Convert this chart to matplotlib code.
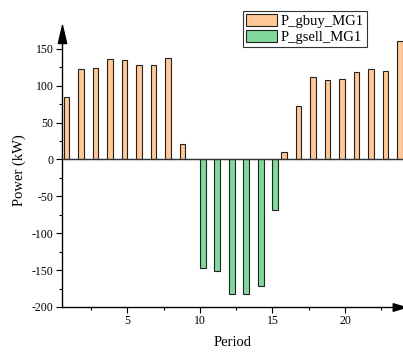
import matplotlib.pyplot as plt
import numpy as np
from matplotlib.ticker import MultipleLocator
from matplotlib.path import Path

plt.rcParams['font.family'] = ['Liberation Serif', 'DejaVu Serif']
plt.rcParams['axes.unicode_minus'] = False

# data
period = np.arange(1, 25)
p_gbuy = [84, 123, 124, 136, 135, 128, 128, 137, 21, 0, 0, 0,
          0, 0, 0, 10, 73, 112, 107, 109, 118, 122, 120, 161]
p_gsell = [0, 0, 0, 0, 0, 0, 0, 0, 0, -147, -151, -183,
           -183, -171, -68, 0, 0, 0, 0, 0, 0, 0, 0, 0]

fig = plt.figure(figsize=(4.03, 3.54), dpi=100)
ax = fig.add_axes([0.154, 0.1328, 0.846, 0.7712])

w = 0.4
ax.bar(period - w / 2, p_gbuy, width=w, color='#FFC896', edgecolor='#222222',
       linewidth=0.8, label='P_gbuy_MG1', zorder=2)
ax.bar(period + w / 2, p_gsell, width=w, color='#80D89C', edgecolor='#222222',
       linewidth=0.8, label='P_gsell_MG1', zorder=2)

ax.axhline(0, color='#333333', linewidth=1.0, zorder=3)

ax.set_xlim(0.49, 24.0)
ax.set_ylim(-200, 170)
ax.xaxis.set_major_locator(MultipleLocator(5))
ax.xaxis.set_minor_locator(MultipleLocator(2.5))
ax.yaxis.set_major_locator(MultipleLocator(50))
ax.yaxis.set_minor_locator(MultipleLocator(25))
ax.tick_params(which='major', length=4, width=0.8, labelsize=8.5, pad=2)
ax.tick_params(which='minor', length=2.5, width=0.8)

for s in ['top', 'right']:
    ax.spines[s].set_visible(False)
for s in ['left', 'bottom']:
    ax.spines[s].set_linewidth(1.0)

# arrow heads on the axes (slim triangles)
up = Path([(-0.23, -0.5), (0.23, -0.5), (0, 0.5), (-0.23, -0.5)],
          [Path.MOVETO, Path.LINETO, Path.LINETO, Path.CLOSEPOLY])
right = Path([(-0.5, -0.3), (-0.5, 0.3), (0.5, 0), (-0.5, -0.3)],
             [Path.MOVETO, Path.LINETO, Path.LINETO, Path.CLOSEPOLY])
ax.plot(0, 1.0, marker=up, color='black', markersize=13,
        transform=ax.transAxes, clip_on=False)
ax.plot(0.987, 0, marker=right, color='black', markersize=9,
        transform=ax.transAxes, clip_on=False)

ax.set_xlabel('Period', fontsize=10.5, labelpad=6)
ax.set_ylabel('Power (kW)', fontsize=10.5, labelpad=4)

leg = ax.legend(loc='upper left', bbox_to_anchor=(243 / 403, 1 - 11 / 354),
                bbox_transform=fig.transFigure, fontsize=10.5, frameon=True,
                fancybox=False, edgecolor='black', handlelength=2.1,
                handleheight=0.95, labelspacing=0.1, borderpad=0.2,
                handletextpad=0.3, borderaxespad=0)
leg.get_frame().set_linewidth(0.8)

fig.savefig('out.png', dpi=100)
